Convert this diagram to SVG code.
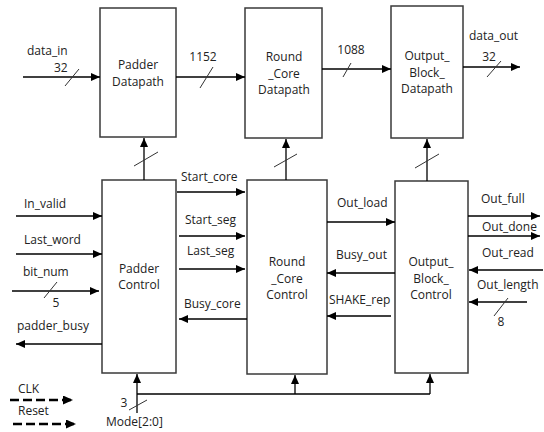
<svg xmlns="http://www.w3.org/2000/svg" width="544" height="432" viewBox="0 0 544 432">
<defs>
<marker id="ah" markerWidth="9" markerHeight="8" refX="9" refY="4" orient="auto" markerUnits="userSpaceOnUse">
<path d="M0,0 L9,4 L0,8 Z" fill="#000"/>
</marker>
<marker id="ahb" markerWidth="10" markerHeight="9" refX="9" refY="4.5" orient="auto" markerUnits="userSpaceOnUse">
<path d="M0,0 L10,4.5 L0,9 Z" fill="#000"/>
</marker>
<style>
text{font-family:"Open Sans","Liberation Sans",sans-serif;font-size:12px;fill:#222}
.box{fill:#fff;stroke:#3a3a3a;stroke-width:1.5}
.c{text-anchor:middle}
.w{stroke:#000;stroke-width:1.3;fill:none}
.a{stroke:#000;stroke-width:1.3;fill:none;marker-end:url(#ah)}
.s{stroke:#333;stroke-width:1}
.d{stroke:#000;stroke-width:2.5;fill:none;stroke-dasharray:9 4;marker-end:url(#ahb)}
</style>
</defs>
<rect width="544" height="432" fill="#fff"/>
<g id="padder_datapath">
<rect class="box" x="100" y="8" width="76" height="129"/>
<text class="c" x="138" y="69">Padder</text>
<text class="c" x="138" y="85.5">Datapath</text>
</g>
<g id="round_core_datapath">
<rect class="box" x="245" y="8" width="77" height="130"/>
<text class="c" x="284" y="61">Round</text>
<text class="c" x="284" y="77.5">_Core</text>
<text class="c" x="284" y="94">Datapath</text>
</g>
<g id="output_block_datapath">
<rect class="box" x="391" y="6" width="72" height="132"/>
<text class="c" x="427" y="60">Output_</text>
<text class="c" x="427" y="76.5">Block_</text>
<text class="c" x="427" y="93">Datapath</text>
</g>
<g id="padder_control">
<rect class="box" x="102" y="180" width="74" height="193"/>
<text class="c" x="139" y="272.5">Padder</text>
<text class="c" x="139" y="289">Control</text>
</g>
<g id="round_core_control">
<rect class="box" x="247" y="180" width="80" height="194"/>
<text class="c" x="287" y="266">Round</text>
<text class="c" x="287" y="282.5">_Core</text>
<text class="c" x="287" y="299">Control</text>
</g>
<g id="output_block_control">
<rect class="box" x="395" y="181" width="73" height="192"/>
<text class="c" x="431" y="266">Output_</text>
<text class="c" x="431" y="282.5">Block_</text>
<text class="c" x="431" y="299">Control</text>
</g>
<g id="connectors">
<line class="a" x1="23" y1="77" x2="100" y2="77"/>
<line class="s" x1="65" y1="86" x2="79" y2="69"/>
<line class="a" x1="176" y1="77" x2="245" y2="77"/>
<line class="s" x1="200" y1="88" x2="213" y2="67"/>
<line class="a" x1="322" y1="69" x2="391" y2="69"/>
<line class="s" x1="343" y1="77" x2="351" y2="63"/>
<line class="a" x1="463" y1="67" x2="520" y2="67"/>
<line class="s" x1="487" y1="77" x2="501" y2="61"/>
<line class="a" x1="144" y1="180" x2="144" y2="138"/>
<line class="s" x1="134" y1="166" x2="158" y2="152"/>
<line class="a" x1="286" y1="180" x2="286" y2="139"/>
<line class="s" x1="274" y1="167" x2="297" y2="154"/>
<line class="a" x1="427" y1="181" x2="427" y2="139"/>
<line class="s" x1="415" y1="168" x2="439" y2="154"/>
<line class="a" x1="16" y1="216" x2="102" y2="216"/>
<line class="a" x1="16" y1="254" x2="102" y2="254"/>
<line class="a" x1="12" y1="291" x2="99" y2="291"/>
<line class="s" x1="44" y1="298" x2="57" y2="282"/>
<line class="a" x1="102" y1="344" x2="16" y2="344"/>
<line class="a" x1="177" y1="192" x2="245" y2="192"/>
<line class="a" x1="179" y1="236" x2="245" y2="236"/>
<line class="a" x1="179" y1="269" x2="245" y2="269"/>
<line class="a" x1="247" y1="319" x2="179" y2="319"/>
<line class="a" x1="327" y1="222" x2="395" y2="222"/>
<line class="a" x1="395" y1="273" x2="327" y2="273"/>
<line class="a" x1="391" y1="316" x2="327" y2="316"/>
<line class="a" x1="468" y1="216" x2="540" y2="216"/>
<line class="a" x1="468" y1="236" x2="540" y2="236"/>
<line class="a" x1="543" y1="270" x2="469" y2="270"/>
<line class="a" x1="527" y1="302" x2="469" y2="302"/>
<line class="s" x1="494" y1="316" x2="508" y2="298"/>
<line class="w" x1="137" y1="413" x2="137" y2="394"/>
<line class="a" x1="137" y1="394" x2="137" y2="374"/>
<line class="w" x1="137" y1="394" x2="430" y2="394"/>
<line class="a" x1="295" y1="394" x2="295" y2="375"/>
<line class="a" x1="430" y1="394" x2="430" y2="374"/>
<line class="s" x1="129" y1="410" x2="147" y2="400"/>
<line class="d" x1="10" y1="400" x2="72" y2="400"/>
<line class="d" x1="13" y1="424" x2="75" y2="424"/>
</g>
<g id="labels">
<text x="27" y="55">data_in</text>
<text x="54" y="71.5">32</text>
<text class="c" x="203" y="61">1152</text>
<text class="c" x="351" y="54">1088</text>
<text x="469" y="40">data_out</text>
<text class="c" x="489" y="61">32</text>
<text x="181" y="181">Start_core</text>
<text x="24" y="208">In_valid</text>
<text x="24" y="244">Last_word</text>
<text x="23" y="276">bit_num</text>
<text class="c" x="56" y="307">5</text>
<text x="17" y="330">padder_busy</text>
<text x="185" y="224">Start_seg</text>
<text x="187" y="255">Last_seg</text>
<text x="184" y="308">Busy_core</text>
<text x="337" y="207">Out_load</text>
<text x="336" y="259">Busy_out</text>
<text x="329" y="304">SHAKE_rep</text>
<text x="481" y="203">Out_full</text>
<text x="482" y="231">Out_done</text>
<text x="482" y="257">Out_read</text>
<text x="477" y="289">Out_length</text>
<text class="c" x="501" y="326">8</text>
<text x="18" y="393">CLK</text>
<text x="18" y="415">Reset</text>
<text class="c" x="124" y="407">3</text>
<text x="106" y="426">Mode[2:0]</text>
</g>
</svg>
